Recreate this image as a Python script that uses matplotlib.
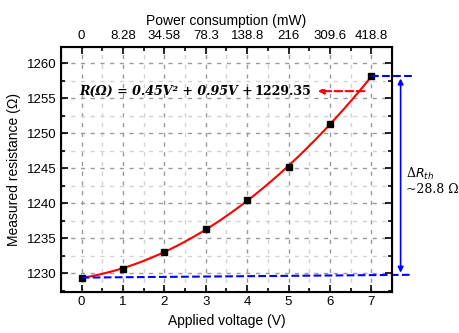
import matplotlib
matplotlib.use("Agg")
import matplotlib.pyplot as plt
import numpy as np
from matplotlib.ticker import MultipleLocator

voltage = [0, 1, 2, 3, 4, 5, 6, 7]
resistance = [1229.4, 1230.6, 1233.1, 1236.3, 1240.5, 1245.2, 1251.3, 1258.2]
fit_coef = [0.45, 0.95, 1229.35]
power_labels = ["0", "8.28", "34.58", "78.3", "138.8", "216", "309.6", "418.8"]

plt.rcParams['font.family'] = ['Liberation Sans', 'DejaVu Sans']
fig = plt.figure(figsize=(4.6, 3.33), dpi=100)
ax = fig.add_axes([0.1326, 0.1243, 0.7194, 0.7346])

ax.set_xlim(-0.5, 7.5)
ax.set_ylim(1227.4, 1262.3)

ax.xaxis.set_major_locator(MultipleLocator(1))
ax.xaxis.set_minor_locator(MultipleLocator(0.5))
ax.yaxis.set_major_locator(MultipleLocator(5))
ax.yaxis.set_minor_locator(MultipleLocator(2.5))
ax.grid(True, which='major', color='#9a9a9a', linestyle=(0, (3, 4)), linewidth=1.0)
ax.grid(True, which='minor', color='#d2d2d2', linestyle=(0, (3, 4)), linewidth=1.0)
ax.set_axisbelow(True)

ax.tick_params(which='both', direction='in', top=False, right=True, labelsize=9.5, width=1.2)
ax.tick_params(which='major', length=5)
ax.tick_params(which='minor', length=3)
for s in ax.spines.values():
    s.set_linewidth(1.5)

vv = np.linspace(0, 7, 200)
ax.plot(vv, np.polyval(fit_coef, vv), color='red', lw=1.5, zorder=3)
ax.plot(voltage, resistance, 's', color='black', ms=5, zorder=4)

ax.set_xlabel("Applied voltage (V)", fontsize=10)
ax.set_ylabel("Measured resistance (Ω)", fontsize=10)

ax2 = ax.twiny()
ax2.set_xlim(ax.get_xlim())
ax2.set_xticks(voltage)
ax2.set_xticklabels(power_labels)
ax2.xaxis.set_minor_locator(MultipleLocator(0.5))
ax2.tick_params(which='both', direction='in', labelsize=9.5, width=1.2)
ax2.tick_params(which='major', length=5)
ax2.tick_params(which='minor', length=3)
ax2.set_xlabel("Power consumption (mW)", fontsize=10)

# equation
t1 = ax.text(-0.05, 1256.0, "R(Ω) = 0.45V² + 0.95V +", fontfamily='DejaVu Serif',
             fontstyle='italic', fontweight='bold', fontsize=9.1, va='center', ha='left', zorder=5)
ax.annotate("1229.35", xy=(1.0, 0.5), xycoords=t1, xytext=(1, 0), textcoords='offset points',
            fontfamily='DejaVu Serif', fontweight='bold', fontsize=9.1, va='center', ha='left', zorder=5)
ax.annotate("", xy=(5.64, 1256.0), xytext=(6.9, 1256.0),
            arrowprops=dict(arrowstyle='-|>', color='red', lw=1.5, linestyle='--',
                            mutation_scale=8), zorder=5)

# delta R annotation
ax.plot([voltage[-1], 7.98], [resistance[-1], resistance[-1]],
        color='blue', ls='--', lw=1.5, clip_on=False, zorder=5)
ax.plot([voltage[0], 7.98], [resistance[0], resistance[0] + 0.4],
        color='blue', ls='--', lw=1.5, clip_on=False, zorder=5)
ax.annotate("", xy=(7.71, resistance[-1]), xytext=(7.71, resistance[0] + 0.3),
            arrowprops=dict(arrowstyle='<|-|>', color='blue', lw=1.2, mutation_scale=8),
            annotation_clip=False)
ax.text(7.85, 1244.2, "Δ$R_{th}$", fontfamily='DejaVu Serif', fontsize=9, ha='left', va='center')
ax.text(7.85, 1242.0, "~28.8 Ω", fontfamily='DejaVu Serif', fontsize=9, ha='left', va='center')

fig.savefig("out.png", dpi=100)
